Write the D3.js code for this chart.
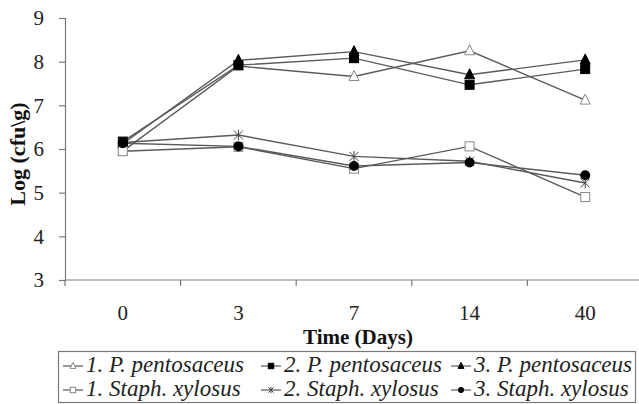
<!DOCTYPE html>
<html><head><meta charset="utf-8">
<script src="https://cdn.jsdelivr.net/npm/d3@7"></script>
<style>body{margin:0;background:#fff}svg{display:block}
text{font-family:'Liberation Serif','DejaVu Serif',serif}</style>
</head><body>
<svg id="c" width="639" height="404"></svg>
<script>
const days = ['0','3','7','14','40'];
const yTicks = [3,4,5,6,7,8,9];
const seriesNames = ['1. P. pentosaceus','2. P. pentosaceus','3. P. pentosaceus','1. Staph. xylosus','2. Staph. xylosus','3. Staph. xylosus'];
const pp1 = [5.95, 7.90, 7.66, 8.25, 7.12];
const pp2 = [6.17, 7.92, 8.08, 7.47, 7.83];
const pp3 = [6.12, 8.03, 8.23, 7.70, 8.04];
const sx1 = [5.95, 6.05, 5.55, 6.06, 4.90];
const sx2 = [6.15, 6.32, 5.83, 5.72, 5.22];
const sx3 = [6.13, 6.06, 5.61, 5.69, 5.40];
const markers = ['triOpen','square','tri','sqOpen','star','circle'];

const series = [pp1,pp2,pp3,sx1,sx2,sx3].map((v,i)=>({name:seriesNames[i], values:v, marker:markers[i]}));

const svg = d3.select('#c');
const font = "'Liberation Serif', 'DejaVu Serif', serif";
const axisCol = '#7a7a7a';
const lineCol = '#5a5a5a';

const x = d3.scaleBand().domain(days).range([65, 643]).padding(0);
const y = d3.scaleLinear().domain([3,9]).range([280, 18]);
const cx = d => x(d) + x.bandwidth()/2;

// Y axis
const ya = svg.append('g').attr('transform','translate(65,0)')
  .call(d3.axisLeft(y).tickValues(yTicks).tickFormat(d3.format('d')).tickSize(6).tickPadding(15));
ya.select('.domain').attr('stroke',axisCol).attr('stroke-width',1.2);
ya.selectAll('.tick line').attr('stroke',axisCol).attr('stroke-width',1.2);
ya.selectAll('.tick text').style('font-family',font).attr('font-size',21).attr('fill','#222');

// X axis line
svg.append('line').attr('x1',65).attr('x2',643).attr('y1',y(3)).attr('y2',y(3))
  .attr('stroke',axisCol).attr('stroke-width',1.2);
const bounds = days.map(d=>x(d)).concat([x.range()[1]]);
svg.append('g').selectAll('line').data(bounds).join('line')
  .attr('x1',d=>d).attr('x2',d=>d).attr('y1',y(3)).attr('y2',y(3)+6)
  .attr('stroke',axisCol).attr('stroke-width',1.2);
svg.append('g').selectAll('text').data(days).join('text')
  .attr('x',d=>cx(d)).attr('y',320).attr('text-anchor','middle')
  .style('font-family',font).attr('font-size',21).attr('fill','#222').text(d=>d);

// Axis titles
svg.append('text').attr('x',358).attr('y',344).attr('text-anchor','middle')
  .style('font-family',font).attr('font-size',21).attr('font-weight','bold').attr('fill','#111').text('Time (Days)');
svg.append('text').attr('transform','translate(25,154) rotate(-90)').attr('text-anchor','middle')
  .style('font-family',font).attr('font-size',22).attr('font-weight','bold').attr('fill','#111').text('Log (cfu\\g)');

function drawMarker(g, type, s) {
  if (type==='square' || type==='sqOpen') {
    g.append('rect').attr('x',-4.5*s).attr('y',-4.5*s).attr('width',9*s).attr('height',9*s)
      .attr('fill', type==='square'?'#000':'#fff').attr('stroke', type==='square'?'#000':'#888').attr('stroke-width',1);
  } else if (type==='tri' || type==='triOpen') {
    const p = [[0,-6*s],[5*s,4*s],[-5*s,4*s]];
    g.append('path').attr('d','M'+p.map(q=>q.join(',')).join('L')+'Z')
      .attr('fill', type==='tri'?'#000':'#fff').attr('stroke', type==='tri'?'#000':'#888').attr('stroke-width',1);
  } else if (type==='circle') {
    g.append('circle').attr('r',5*s).attr('fill','#000');
  } else if (type==='star') {
    const r = 4.5*s;
    g.append('path').attr('d',`M${-r},${-r}L${r},${r}M${-r},${r}L${r},${-r}M0,${-r*1.2}L0,${r*1.2}`)
      .attr('stroke','#444').attr('stroke-width',1).attr('fill','none');
  }
}

// Lines
const line = d3.line().x((d,i)=>cx(days[i])).y(d=>y(d));
const plot = svg.append('g');
series.forEach(s=>{
  plot.append('path').attr('d',line(s.values)).attr('fill','none')
    .attr('stroke',lineCol).attr('stroke-width',1.4);
});
series.forEach(s=>{
  s.values.forEach((v,i)=>{
    const g = plot.append('g').attr('transform',`translate(${cx(days[i])},${y(v)})`);
    drawMarker(g, s.marker, 1);
  });
});

// Legend
const lg = svg.append('g');
lg.append('rect').attr('x',58.5).attr('y',351.5).attr('width',577).attr('height',51)
  .attr('fill','#fff').attr('stroke',axisCol).attr('stroke-width',1.2);
const colX = [63, 261, 451];
const rowY = [372, 396];
series.forEach((s,i)=>{
  const col = i%3, row = Math.floor(i/3);
  const g = lg.append('g').attr('transform',`translate(${colX[col]},${rowY[row]-6})`);
  g.append('line').attr('x1',0).attr('x2',20).attr('y1',0).attr('y2',0).attr('stroke',lineCol).attr('stroke-width',1.2);
  const m = g.append('g').attr('transform','translate(10,0)');
  drawMarker(m, s.marker, 0.6);
  g.append('text').attr('x',23).attr('y',6).style('font-family',font).attr('font-style','italic')
    .attr('font-size',23).attr('fill','#222').text(s.name);
});
</script>
</body></html>
